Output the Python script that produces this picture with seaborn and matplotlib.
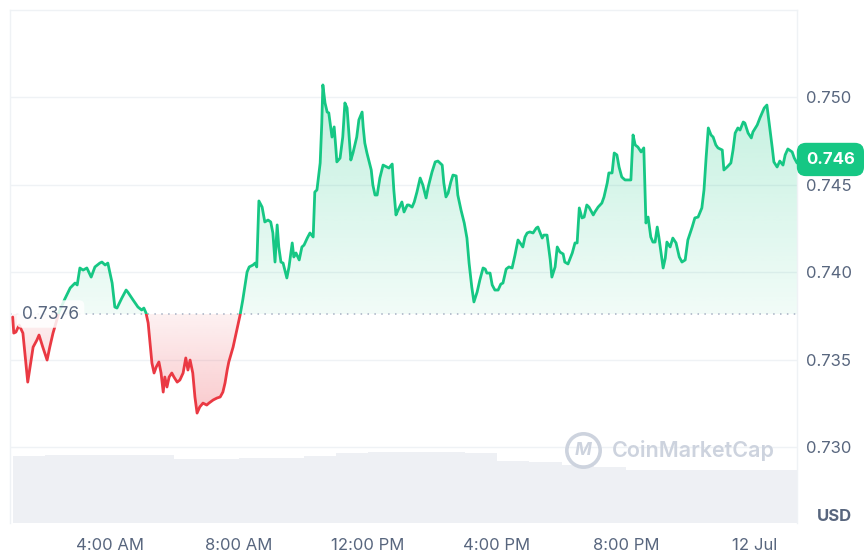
import numpy as np
import pandas as pd
import matplotlib
matplotlib.use('Agg')
import matplotlib.pyplot as plt
import matplotlib.colors as mcolors
from matplotlib.path import Path
from matplotlib.patches import Rectangle
import seaborn as sns

# ==========================================
# DATOS (24h, minutos desde 00:00 del 11 Jul)
# ==========================================
minutes = [59, 61, 65, 71, 78, 87, 97, 104, 108, 115, 123, 128, 134, 140, 145, 151, 156,
           166, 175, 179, 184, 190, 197, 205, 212, 221, 225, 231, 236, 244, 249, 253, 262,
           270, 273, 283, 292, 299, 303, 307, 311, 314, 318, 322, 326, 331, 335, 339, 342,
           346, 350, 355, 359, 365, 370, 376, 381, 385, 389, 393, 394, 398, 402, 407, 413,
           420, 424, 432, 439, 445, 450, 454, 458, 461, 469, 476, 482, 487, 495, 499, 506,
           510, 513, 517, 523, 528, 534, 539, 543, 547, 551, 554, 558, 562, 569, 573, 579,
           582, 586, 592, 597, 601, 607, 612, 618, 621, 625, 631, 634, 636, 640, 644, 647,
           653, 657, 660, 662, 668, 673, 677, 681, 685, 688, 692, 699, 703, 709, 711, 714,
           718, 726, 729, 733, 737, 742, 748, 755, 759, 765, 768, 772, 776, 783, 787, 793,
           796, 802, 806, 811, 817, 822, 828, 832, 839, 845, 850, 858, 861, 865, 869, 874,
           878, 884, 887, 893, 899, 904, 908, 913, 917, 923, 928, 934, 938, 941, 947, 951,
           956, 962, 967, 971, 977, 982, 988, 993, 999, 1003, 1008, 1012, 1016, 1021, 1027,
           1033, 1036, 1044, 1047, 1053, 1059, 1062, 1068, 1072, 1077, 1083, 1086, 1092,
           1100, 1105, 1109, 1113, 1118, 1122, 1127, 1131, 1139, 1142, 1148, 1155, 1159,
           1165, 1168, 1174, 1178, 1183, 1187, 1192, 1198, 1209, 1213, 1217, 1222, 1228,
           1233, 1237, 1241, 1246, 1250, 1254, 1258, 1261, 1269, 1273, 1276, 1282, 1287,
           1293, 1299, 1304, 1310, 1315, 1323, 1328, 1334, 1341, 1345, 1349, 1353, 1358,
           1362, 1367, 1371, 1379, 1382, 1388, 1395, 1399, 1403, 1408, 1412, 1418, 1421,
           1427, 1433, 1436, 1444, 1449, 1457, 1462, 1466, 1472, 1475, 1481, 1486, 1492,
           1496, 1501, 1509, 1513, 1518]

prices = [0.73743, 0.73651, 0.73657, 0.73697, 0.73651, 0.73371, 0.73571, 0.73611, 0.73640,
          0.73571, 0.73497, 0.73571, 0.73651, 0.73714, 0.73771, 0.73811, 0.73846, 0.73909,
          0.73937, 0.73926, 0.74023, 0.74011, 0.74023, 0.73971, 0.74029, 0.74051, 0.74057,
          0.74040, 0.74051, 0.73937, 0.73800, 0.73794, 0.73851, 0.73897, 0.73886, 0.73840,
          0.73800, 0.73783, 0.73794, 0.73766, 0.73709, 0.73611, 0.73480, 0.73423, 0.73457,
          0.73486, 0.73423, 0.73314, 0.73400, 0.73343, 0.73400, 0.73423, 0.73400, 0.73371,
          0.73383, 0.73423, 0.73509, 0.73440, 0.73497, 0.73440, 0.73423, 0.73286, 0.73194,
          0.73229, 0.73251, 0.73240, 0.73251, 0.73269, 0.73280, 0.73286, 0.73314, 0.73366,
          0.73440, 0.73486, 0.73571, 0.73669, 0.73754, 0.73840, 0.74000, 0.74029, 0.74040,
          0.74051, 0.74029, 0.74406, 0.74371, 0.74286, 0.74297, 0.74286, 0.74223, 0.74057,
          0.74269, 0.74143, 0.74057, 0.74051, 0.73966, 0.74029, 0.74166, 0.74086, 0.74109,
          0.74069, 0.74143, 0.74154, 0.74194, 0.74223, 0.74200, 0.74457, 0.74469, 0.74623,
          0.74851, 0.75069, 0.74966, 0.74914, 0.74909, 0.74771, 0.74829, 0.74714, 0.74629,
          0.74651, 0.74771, 0.74966, 0.74937, 0.74771, 0.74640, 0.74680, 0.74771, 0.74869,
          0.74914, 0.74829, 0.74737, 0.74680, 0.74583, 0.74497, 0.74440, 0.74440, 0.74537,
          0.74611, 0.74600, 0.74594, 0.74617, 0.74469, 0.74326, 0.74354, 0.74400, 0.74343,
          0.74383, 0.74383, 0.74371, 0.74400, 0.74457, 0.74537, 0.74497, 0.74423, 0.74486,
          0.74571, 0.74629, 0.74634, 0.74611, 0.74509, 0.74429, 0.74451, 0.74514, 0.74554,
          0.74549, 0.74440, 0.74354, 0.74280, 0.74194, 0.74051, 0.73914, 0.73829, 0.73886,
          0.73954, 0.74023, 0.74017, 0.73994, 0.73994, 0.73926, 0.73897, 0.73897, 0.73931,
          0.73937, 0.74017, 0.74029, 0.74023, 0.74091, 0.74183, 0.74166, 0.74143, 0.74200,
          0.74223, 0.74229, 0.74223, 0.74251, 0.74257, 0.74194, 0.74211, 0.74211, 0.74069,
          0.73971, 0.74029, 0.74143, 0.74114, 0.74103, 0.74057, 0.74046, 0.74109, 0.74166,
          0.74166, 0.74366, 0.74309, 0.74314, 0.74383, 0.74371, 0.74326, 0.74343, 0.74371,
          0.74394, 0.74429, 0.74509, 0.74566, 0.74566, 0.74680, 0.74669, 0.74600, 0.74543,
          0.74526, 0.74526, 0.74783, 0.74726, 0.74714, 0.74686, 0.74709, 0.74280, 0.74314,
          0.74200, 0.74171, 0.74171, 0.74257, 0.74200, 0.74023, 0.74080, 0.74171, 0.74143,
          0.74194, 0.74166, 0.74086, 0.74057, 0.74069, 0.74183, 0.74257, 0.74309, 0.74314,
          0.74366, 0.74469, 0.74657, 0.74823, 0.74783, 0.74771, 0.74726, 0.74709, 0.74697,
          0.74583, 0.74600, 0.74623, 0.74697, 0.74794, 0.74823, 0.74811, 0.74857, 0.74851,
          0.74794, 0.74766, 0.74800, 0.74840, 0.74880, 0.74937, 0.74954, 0.74857, 0.74709,
          0.74629, 0.74600, 0.74634, 0.74611, 0.74669, 0.74703, 0.74686, 0.74651, 0.74623]

BASE_PRICE = 0.7376

# volumen por hora (escala arbitraria)
vol_hours = list(range(1, 26))
volume = [134, 136, 136, 136, 136, 128, 128, 130, 130, 134, 140, 142, 142,
          142, 140, 124, 122, 116, 112, 106, 106, 106, 106, 106, 106]

tick_hours = [4, 8, 12, 16, 20, 24]
tick_labels = ['4:00 AM', '8:00 AM', '12:00 PM', '4:00 PM', '8:00 PM', '12 Jul']
price_ticks = [0.730, 0.735, 0.740, 0.745, 0.750]

# ==========================================
# ESTILO
# ==========================================
GREEN = '#16c784'
RED = '#ea3943'
TEXT = '#58667e'
GRID = '#eff2f5'

sns.set_theme(style='white')
plt.rcParams['font.family'] = ['Inter', 'DejaVu Sans']

df = pd.DataFrame({'hour': np.array(minutes) / 60.0, 'price': prices})


def gradient_fill(ax, x, y, base, above, color, a_near, a_far):
    x = np.asarray(x)
    y = np.asarray(y)
    where = y >= base if above else y <= base
    coll = ax.fill_between(x, y, base, where=where, interpolate=True,
                           facecolor='none', edgecolor='none')
    clip = Path.make_compound_path(*coll.get_paths())
    rgba = np.zeros((200, 1, 4))
    rgba[..., :3] = mcolors.to_rgb(color)
    if above:
        rgba[:, 0, 3] = np.linspace(a_near, a_far, 200)
        lo, hi = base, y.max()
    else:
        rgba[:, 0, 3] = np.linspace(a_far, a_near, 200)
        lo, hi = y.min(), base
    img = ax.imshow(rgba, extent=[x.min(), x.max(), lo, hi], origin='lower',
                    aspect='auto', zorder=1, interpolation='bilinear')
    img.set_clip_path(clip, ax.transData)


fig = plt.figure(figsize=(8.64, 5.55), dpi=100)
ax = fig.add_axes([10 / 864, 32 / 555, 787 / 864, 513 / 555])

# volumen (eje secundario)
axv = ax.twinx()
axv.bar(vol_hours, volume, width=1.0, align='edge', color='#eef0f4',
        linewidth=0, zorder=1)
axv.set_ylim(0, 1026)
axv.set_yticks([])
for s in axv.spines.values():
    s.set_visible(False)
ax.set_zorder(axv.get_zorder() + 1)
ax.patch.set_visible(False)

# rellenos con degradado
gradient_fill(ax, df['hour'], df['price'], BASE_PRICE, True, GREEN, 0.06, 0.26)
gradient_fill(ax, df['hour'], df['price'], BASE_PRICE, False, RED, 0.07, 0.27)

# linea de precio: verde arriba de la base, roja debajo
sns.lineplot(data=df, x='hour', y='price', ax=ax, color=GREEN, lw=2.0,
             estimator=None, sort=False, zorder=3)
ax.lines[-1].set_clip_path(Rectangle((0, BASE_PRICE), 100, 1, transform=ax.transData))
sns.lineplot(data=df, x='hour', y='price', ax=ax, color=RED, lw=2.0,
             estimator=None, sort=False, zorder=3)
ax.lines[-1].set_clip_path(Rectangle((0, BASE_PRICE - 1), 100, 1, transform=ax.transData))

ax.axhline(BASE_PRICE, color='#a6b0c3', lw=1.1, ls=(0, (1, 3.5)), zorder=2)

ax.set_xlim(0.9, 25.3)
ax.set_ylim(0.72566, 0.75497)

# ejes
ax.yaxis.tick_right()
ax.set_yticks(price_ticks)
ax.set_yticklabels([f'{t:.3f}' for t in price_ticks])
ax.set_xticks(tick_hours)
ax.set_xticklabels(tick_labels)
ax.tick_params(axis='y', length=0, pad=6.5, labelsize=12, labelcolor=TEXT)
ax.tick_params(axis='x', length=0, pad=11, labelsize=12, labelcolor=TEXT)
ax.set_xlabel('')
ax.set_ylabel('')
ax.grid(axis='y', color=GRID, lw=1)
ax.grid(axis='x', visible=False)
for side in ['left', 'top', 'right']:
    ax.spines[side].set_color(GRID)
    ax.spines[side].set_linewidth(1)
ax.spines['bottom'].set_visible(False)

# etiqueta del precio base
ax.text(0.0152, BASE_PRICE, f'{BASE_PRICE:.4f}', transform=ax.get_yaxis_transform(),
        ha='left', va='center', fontsize=12.5, color=TEXT, zorder=5,
        bbox=dict(boxstyle='round,pad=0.3', fc='white', ec='none', alpha=0.85))

# precio actual
ax.text(1.0114, prices[-1] + 0.0002, f'{prices[-1]:.3f}', transform=ax.get_yaxis_transform(),
        ha='left', va='center', fontsize=12, color='white', fontweight='bold',
        clip_on=False, zorder=6,
        bbox=dict(boxstyle='round,pad=0.55', fc=GREEN, ec='none'))

ax.text(1.047, 0.012, 'USD', transform=ax.transAxes, ha='center', va='center',
        fontsize=12, fontweight='bold', color=TEXT)

# marca de agua
WM = '#cdd3de'
ax.plot([0.728], [0.142], transform=ax.transAxes, marker='o', ms=24, mfc='none',
        mec=WM, mew=2.6, zorder=6)
ax.text(0.728, 0.142, 'M', transform=ax.transAxes, ha='center', va='center',
        fontsize=13, color=WM, fontweight='bold', style='italic', zorder=6)
ax.text(0.765, 0.142, 'CoinMarketCap', transform=ax.transAxes, ha='left', va='center',
        fontsize=15.5, color=WM, fontweight='semibold', zorder=6)

fig.savefig('out.png', dpi=100)
